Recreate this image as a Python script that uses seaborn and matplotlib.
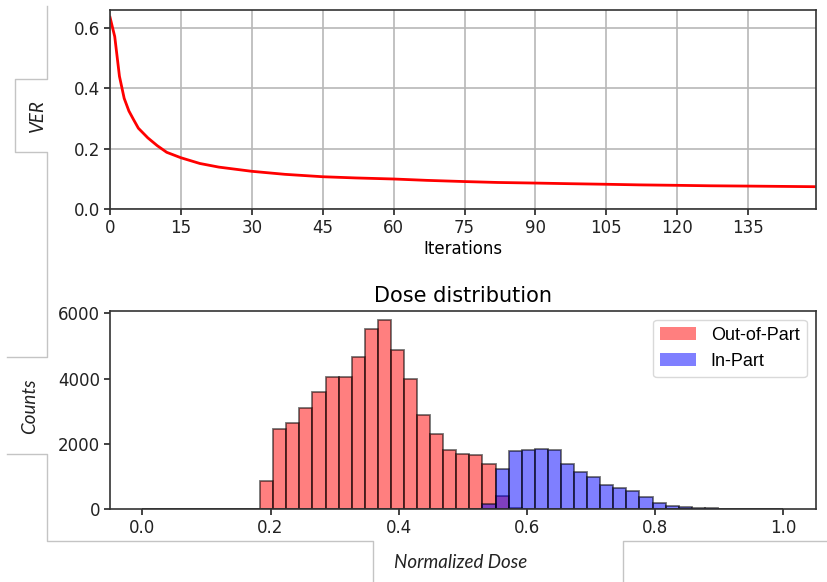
import numpy as np
import pandas as pd
import matplotlib
matplotlib.use("Agg")
import matplotlib.pyplot as plt
from matplotlib.patches import Patch
from matplotlib.lines import Line2D
import seaborn as sns

# ---------------- data ----------------
iterations = [0, 1, 2, 3, 4, 5, 6, 8, 10, 12, 15, 19, 23, 30, 37, 45, 52, 60,
              67, 75, 82, 90, 97, 105, 112, 120, 127, 135, 142, 149]
ver_values = [0.636, 0.572, 0.440, 0.367, 0.325, 0.296, 0.268, 0.236, 0.210,
              0.188, 0.170, 0.151, 0.139, 0.125, 0.115, 0.107, 0.103, 0.0995,
              0.095, 0.091, 0.088, 0.086, 0.084, 0.082, 0.080, 0.0785, 0.077,
              0.076, 0.075, 0.074]

bin_edges = list(np.linspace(0.0, 1.0, 50))   # 49 bins
out_of_part_counts = [0, 0, 0, 0, 0, 0, 0, 0, 0,
                      866, 2449, 2632, 3110, 3591, 4040, 4060, 4662, 5510, 5785,
                      4867, 3999, 2887, 2296, 1825, 1693, 1662, 1390, 415, 30,
                      0, 0, 0, 0, 0, 0, 0, 0, 0, 0, 0, 0, 0, 0, 0, 0, 0, 0, 0, 0]
in_part_counts = [0, 0, 0, 0, 0, 0, 0, 0, 0, 0, 0, 0, 0, 0, 0, 0, 0, 0, 0, 0,
                  0, 0, 0, 0, 0, 0, 153, 1220, 1775, 1806, 1847, 1816, 1388, 1133,
                  980, 755, 653, 561, 367, 204, 112, 61, 41, 31, 20, 20, 10, 10, 5]
series_labels = ["Out-of-Part", "In-Part"]

ver_ticks = list(range(0, 150, 15))
dose_ticks = [0.0, 0.2, 0.4, 0.6, 0.8, 1.0]

# ---------------- style ----------------
plt.rcParams['font.family'] = ['DejaVu Sans']
plt.rcParams['axes.edgecolor'] = '#333333'
plt.rcParams['axes.linewidth'] = 1.2
plt.rcParams['xtick.color'] = '#222222'
plt.rcParams['ytick.color'] = '#222222'
plt.rcParams['xtick.labelsize'] = 12
plt.rcParams['ytick.labelsize'] = 12

W, H = 827, 582
fig = plt.figure(figsize=(W / 100, H / 100), dpi=100)

def fx(px):
    return px / W

def fy(py):
    return 1 - py / H

ax1 = fig.add_axes([fx(110), fy(209), fx(815.7) - fx(110), fy(10) - fy(209)])
ax2 = fig.add_axes([fx(110), fy(509.3), fx(815.7) - fx(110), fy(310.7) - fy(509.3)])

# ---------------- top: VER curve ----------------
df_ver = pd.DataFrame({"Iterations": iterations, "VER": ver_values})
sns.lineplot(data=df_ver, x="Iterations", y="VER", color="red", linewidth=2, ax=ax1)
ax1.set_xlim(0, 149.3)
ax1.set_ylim(0, 0.66)
ax1.set_xticks(ver_ticks)
ax1.set_yticks([0.0, 0.2, 0.4, 0.6])
ax1.grid(True, color='#b8b8b8', linewidth=1.2)
ax1.set_axisbelow(True)
ax1.set_ylabel("")
ax1.set_xlabel("Iterations", fontsize=12, labelpad=2)
ax1.tick_params(length=4, width=1.2, pad=3)

# ---------------- bottom: histogram ----------------
centers = [(a + b) / 2 for a, b in zip(bin_edges[:-1], bin_edges[1:])]
colors = ["red", "blue"]
for counts, col in zip([out_of_part_counts, in_part_counts], colors):
    dfh = pd.DataFrame({"dose": centers, "count": counts})
    sns.histplot(data=dfh, x="dose", weights="count", bins=bin_edges, color=col,
                 alpha=0.5, edgecolor=(0, 0, 0, 0.55), linewidth=1.3, ax=ax2)
ax2.set_xlim(-0.0505, 1.0505)
ax2.set_xticks(dose_ticks)
ax2.set_xticklabels([f"{t:.1f}" for t in dose_ticks])
ax2.set_yticks([0, 2000, 4000, 6000])
ax2.set_ylabel("")
ax2.set_xlabel("")
ax2.set_title("Dose distribution", fontsize=15, pad=6)
ax2.tick_params(length=4, width=1.2, pad=3)
handles = [Patch(facecolor=(1, 0, 0, 0.5), edgecolor='none'),
           Patch(facecolor=(0, 0, 1, 0.5), edgecolor='none')]
ax2.legend(handles, series_labels, loc="upper right",
           prop={'family': 'Liberation Sans', 'size': 13}, frameon=True,
           fancybox=True, framealpha=0.8, edgecolor='#d0d0d0',
           borderaxespad=0.5)

# ---------------- external italic labels ----------------
lab_kw = dict(family='Lato', style='italic', fontsize=13.5, color='#222222',
              ha='center', va='center')
fig.text(fx(37.5), fy(116), "VER", rotation=90, **lab_kw)
fig.text(fx(30), fy(406), "Counts", rotation=90, **lab_kw)
fig.text(fx(461), fy(563), "Normalized Dose", **lab_kw)

# ---------------- text-box frame lines ----------------
line_col = '#c4c4c4'
paths = [
    [(47, 6), (47, 79), (15, 79), (15, 152), (47, 152), (47, 357), (7, 357)],
    [(7, 454), (47, 454), (47, 541), (373, 541), (373, 582)],
    [(827, 541), (623, 541), (623, 582)],
]
for p in paths:
    xs = [fx(a) for a, b in p]
    ys = [fy(b) for a, b in p]
    fig.add_artist(Line2D(xs, ys, color=line_col, linewidth=1.0,
                          transform=fig.transFigure))

fig.savefig("out.png", dpi=100)
